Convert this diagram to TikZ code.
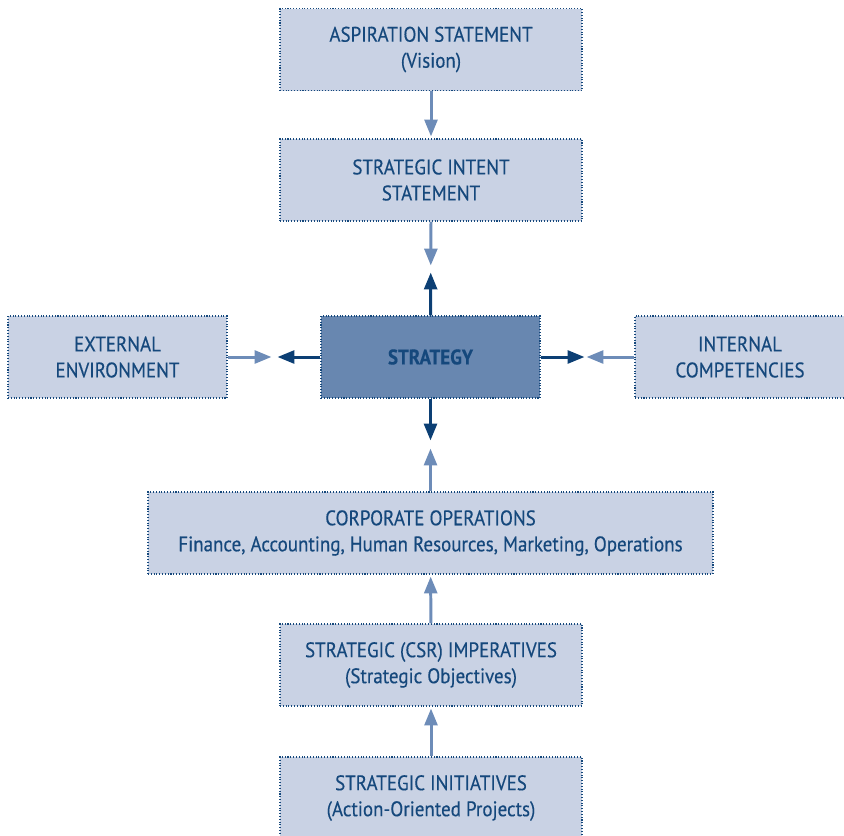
\documentclass[tikz,border=0pt]{standalone}
\usepackage{fontspec}
\setmainfont[FakeStretch=0.9, FakeBold=0.35]{PT Sans}
\usepackage{tikz}
\usetikzlibrary{arrows.meta}
\definecolor{boxfill}{HTML}{C9D2E4}
\definecolor{stratfill}{HTML}{6887B0}
\definecolor{navy}{HTML}{15487C}
\definecolor{darkarrow}{HTML}{0C3F74}
\definecolor{lightarrow}{HTML}{6D8CB8}

\tikzset{
  block/.style={draw=navy, densely dotted, line width=0.6pt, fill=boxfill, text=navy,
    align=center, inner sep=0pt, minimum height=82*0.02cm, font=\fontsize{12}{14.8}\selectfont},
  keyblock/.style={block, fill=stratfill, font=\fontsize{12}{14.8}\selectfont\bfseries},
  feed/.style={lightarrow, line width=3*0.567pt, -{Triangle[length=17*0.567pt, width=13*0.567pt]}},
  push/.style={darkarrow, line width=3*0.567pt, -{Triangle[length=17*0.567pt, width=13*0.567pt]}},
}

\begin{document}
\begin{tikzpicture}[x=0.02cm, y=-0.02cm]
\useasboundingbox (0, 0) rectangle (844, 835);
% top chain
\node[block, minimum width=302*0.02cm] (vision) at (431, 49.5) {ASPIRATION STATEMENT\\(Vision)};
\node[block, minimum width=302*0.02cm] (intent) at (431, 180) {STRATEGIC INTENT\\STATEMENT};
% middle row
\node[block, minimum width=219*0.02cm] (extenv) at (117.5, 357) {EXTERNAL\\ENVIRONMENT};
\node[keyblock, minimum width=219*0.02cm] (strategy) at (430.5, 357) {STRATEGY};
\node[block, minimum width=210*0.02cm] (intcomp) at (740, 357) {INTERNAL\\COMPETENCIES};
% bottom chain
\node[block, minimum width=565*0.02cm] (corpops) at (430.5, 533) {CORPORATE OPERATIONS\\Finance, Accounting, Human Resources, Marketing, Operations};
\node[block, minimum width=302*0.02cm] (imper) at (431, 665) {STRATEGIC (CSR) IMPERATIVES\\(Strategic Objectives)};
\node[block, minimum width=302*0.02cm] (initiat) at (431, 798) {STRATEGIC INITIATIVES\\(Action-Oriented Projects)};

% light arrows into the chain
\draw[feed, shorten >=2*0.02cm] (vision) -- (intent);
\draw[feed, shorten >=2*0.02cm] (initiat) -- (imper);
\draw[feed, shorten >=2*0.02cm] (imper) -- (corpops);
% inputs meeting strategy
\draw[feed, shorten >=50*0.02cm] (intent.south) -- (strategy.north);
\draw[feed, shorten >=50*0.02cm] (corpops.north) -- (strategy.south);
\draw[feed, shorten >=49*0.02cm] (extenv.east) -- (strategy.west);
\draw[feed, shorten >=46*0.02cm] (intcomp.west) -- (strategy.east);
% outputs of strategy
\draw[push, shorten >=51*0.02cm] (strategy.north) -- (intent.south);
\draw[push, shorten >=51*0.02cm] (strategy.south) -- (corpops.north);
\draw[push, shorten >=50*0.02cm] (strategy.west) -- (extenv.east);
\draw[push, shorten >=50*0.02cm] (strategy.east) -- (intcomp.west);
\end{tikzpicture}
\end{document}
